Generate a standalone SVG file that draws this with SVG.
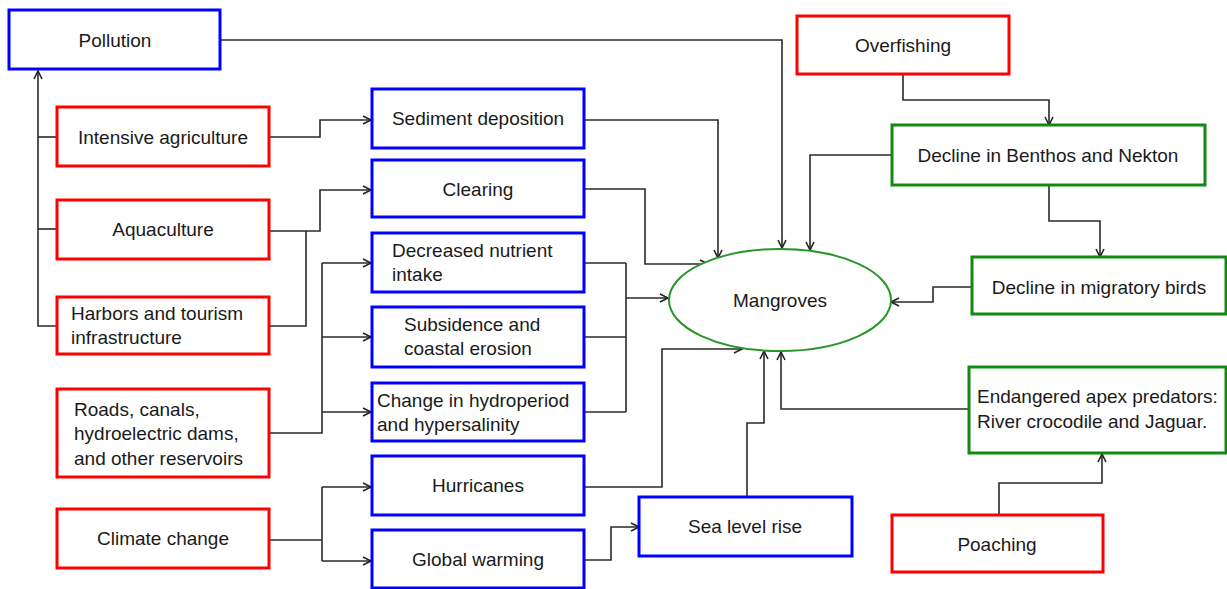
<svg xmlns="http://www.w3.org/2000/svg" width="1227" height="589" viewBox="0 0 1227 589">
<defs>
<marker id="arr" markerUnits="userSpaceOnUse" markerWidth="12" markerHeight="12" refX="9" refY="5" orient="auto">
<path d="M1,1 L9,5 L1,9" fill="none" stroke="#222" stroke-width="1.6"/>
</marker>
<style>
rect{fill:#fff;stroke-width:3}
.r{stroke:#ff0000}
.b{stroke:#0000ff}
.g{stroke:#128a12}
text{font-family:"Liberation Sans",Arial,sans-serif;font-size:19px;fill:#1a1a1a}
.c{text-anchor:middle}
#connectors path{fill:none;stroke:#2a2a2a;stroke-width:1.6}
</style>
</defs>
<rect width="1227" height="589" fill="#fff" stroke="none"/>
<g id="connectors">
<path d="M220,40 H782 V248" marker-end="url(#arr)"/>
<path d="M269,137 H320 V120 H371" marker-end="url(#arr)"/>
<path d="M269,231 H320 V190 H371" marker-end="url(#arr)"/>
<path d="M269,326 H306 V231"/>
<path d="M57,326 H38 V71" marker-end="url(#arr)"/>
<path d="M57,137 H38"/>
<path d="M57,229 H38"/>
<path d="M269,433 H322 V263"/>
<path d="M322,263 H371" marker-end="url(#arr)"/>
<path d="M322,337 H371" marker-end="url(#arr)"/>
<path d="M322,412 H371" marker-end="url(#arr)"/>
<path d="M269,540 H322"/>
<path d="M322,487 V561"/>
<path d="M322,487 H371" marker-end="url(#arr)"/>
<path d="M322,561 H371" marker-end="url(#arr)"/>
<path d="M584,120 H718 V258" marker-end="url(#arr)"/>
<path d="M584,189 H645 V264 H708" marker-end="url(#arr)"/>
<path d="M584,263 H626"/>
<path d="M584,337 H626"/>
<path d="M584,412 H626"/>
<path d="M626,263 V412"/>
<path d="M626,298 H668" marker-end="url(#arr)"/>
<path d="M584,487 H662 V349 H742" marker-end="url(#arr)"/>
<path d="M584,560 H611 V527 H639" marker-end="url(#arr)"/>
<path d="M747,497 V423 H764 V351" marker-end="url(#arr)"/>
<path d="M969,409 H781 V352" marker-end="url(#arr)"/>
<path d="M892,155 H810 V250" marker-end="url(#arr)"/>
<path d="M903,74 V100 H1049 V125" marker-end="url(#arr)"/>
<path d="M1049,185 V221 H1100 V257" marker-end="url(#arr)"/>
<path d="M972,287 H933 V302 H891" marker-end="url(#arr)"/>
<path d="M999,515 V483 H1102 V454" marker-end="url(#arr)"/>
</g>
<g id="pollution"><rect class="b" x="9" y="10" width="211" height="59"/><text class="c" x="115" y="47">Pollution</text></g>
<g id="intensive-agriculture"><rect class="r" x="57" y="107" width="212" height="59"/><text class="c" x="163" y="144">Intensive agriculture</text></g>
<g id="aquaculture"><rect class="r" x="57" y="200" width="212" height="59"/><text class="c" x="163" y="236">Aquaculture</text></g>
<g id="harbors"><rect class="r" x="57" y="297" width="212" height="57"/><text x="71" y="320">Harbors and tourism</text><text x="71" y="344">infrastructure</text></g>
<g id="roads"><rect class="r" x="57" y="389" width="212" height="88"/><text x="74" y="416">Roads, canals,</text><text x="74" y="440">hydroelectric dams,</text><text x="74" y="465">and other reservoirs</text></g>
<g id="climate-change"><rect class="r" x="57" y="509" width="212" height="59"/><text class="c" x="163" y="545">Climate change</text></g>
<g id="sediment"><rect class="b" x="372" y="89" width="212" height="59"/><text class="c" x="478" y="125">Sediment deposition</text></g>
<g id="clearing"><rect class="b" x="372" y="160" width="212" height="57"/><text class="c" x="478" y="196">Clearing</text></g>
<g id="nutrient"><rect class="b" x="372" y="233" width="212" height="59"/><text x="392" y="257">Decreased nutrient</text><text x="392" y="281">intake</text></g>
<g id="subsidence"><rect class="b" x="372" y="307" width="212" height="60"/><text x="404" y="331">Subsidence and</text><text x="404" y="355">coastal erosion</text></g>
<g id="hydroperiod"><rect class="b" x="372" y="383" width="212" height="58"/><text x="377" y="407">Change in hydroperiod</text><text x="377" y="431">and hypersalinity</text></g>
<g id="hurricanes"><rect class="b" x="372" y="456" width="212" height="59"/><text class="c" x="478" y="492">Hurricanes</text></g>
<g id="global-warming"><rect class="b" x="372" y="530" width="212" height="58"/><text class="c" x="478" y="566">Global warming</text></g>
<g id="sea-level"><rect class="b" x="639" y="497" width="213" height="59"/><text class="c" x="745" y="533">Sea level rise</text></g>
<g id="mangroves"><ellipse cx="780" cy="300" rx="111" ry="51" fill="#fff" stroke="#2a962a" stroke-width="2"/><text class="c" x="780" y="307">Mangroves</text></g>
<g id="overfishing"><rect class="r" x="797" y="16" width="212" height="58"/><text class="c" x="903" y="52">Overfishing</text></g>
<g id="benthos"><rect class="g" x="892" y="125" width="313" height="60"/><text class="c" x="1048" y="162">Decline in Benthos and Nekton</text></g>
<g id="migratory"><rect class="g" x="972" y="257" width="254" height="57"/><text class="c" x="1099" y="294">Decline in migratory birds</text></g>
<g id="endangered"><rect class="g" x="969" y="367" width="257" height="86"/><text x="977" y="403">Endangered apex predators:</text><text x="977" y="428">River crocodile and Jaguar.</text></g>
<g id="poaching"><rect class="r" x="892" y="515" width="211" height="57"/><text class="c" x="997" y="551">Poaching</text></g>
</svg>
